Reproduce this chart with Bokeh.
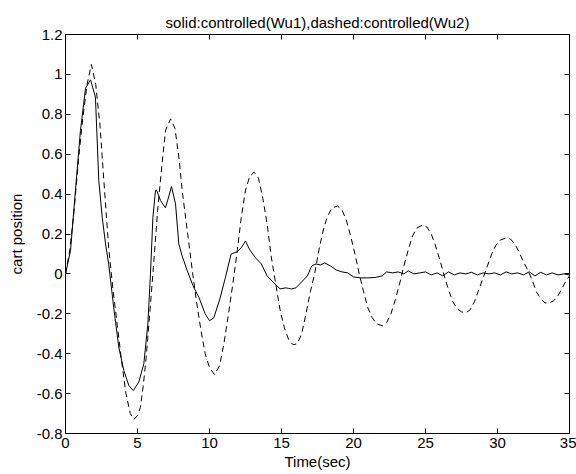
from bokeh.plotting import figure
from bokeh.models import Range1d, LinearAxis, FixedTicker
from bokeh.embed import file_html
from bokeh.resources import INLINE

# ---- data ----
t_wu1 = [0, 0.35, 0.69, 1.04, 1.39, 1.74, 2.08, 2.31, 2.55, 2.78, 3.0, 3.35, 3.7, 4.05,
         4.4, 4.7, 5.09, 5.44, 5.72, 5.9, 6.07, 6.25, 6.32, 6.6, 6.94, 7.1, 7.36, 7.64,
         7.87, 8.1, 8.45, 8.9, 9.26, 9.7, 10.0, 10.3, 10.7, 11.1, 11.5, 11.9, 12.2, 12.5,
         12.8, 13.2, 13.6, 14.0, 14.4, 14.9, 15.3, 15.7, 16.0, 16.4, 16.8, 17.1, 17.4,
         17.7, 18.0, 18.4, 18.8, 19.2, 19.6, 20.0, 20.5, 21.0, 21.5, 22.0, 22.3, 22.7,
         23.1, 23.5, 23.8, 24.2, 24.6, 25.0, 25.4, 25.8, 26.2, 26.6, 27.0, 27.4, 27.8,
         28.2, 28.6, 29.0, 29.4, 29.8, 30.2, 30.6, 31.0, 31.4, 31.8, 32.2, 32.6, 33.0,
         33.4, 33.8, 34.2, 34.6, 35.0]
pos_wu1 = [0, 0.117, 0.418, 0.72, 0.93, 0.973, 0.886, 0.47, 0.284, 0.15, 0.05, -0.17,
           -0.367, -0.484, -0.56, -0.585, -0.543, -0.45, -0.25, 0.0, 0.284, 0.418, 0.42,
           0.368, 0.331, 0.37, 0.438, 0.351, 0.15, 0.09, 0.017, -0.067, -0.117, -0.2,
           -0.235, -0.22, -0.13, -0.02, 0.1, 0.11, 0.13, 0.165, 0.12, 0.08, 0.05, -0.01,
           -0.04, -0.075, -0.07, -0.075, -0.07, -0.04, -0.01, 0.04, 0.05, 0.045, 0.055,
           0.04, 0.02, 0.01, 0.005, -0.015, -0.02, -0.02, -0.018, -0.01, 0.01, 0.005,
           0.01, 0.0, 0.015, 0.0, 0.005, 0.01, -0.005, 0.005, -0.01, 0.01, -0.005, 0.005,
           0.0, 0.008, -0.005, 0.005, 0.0, 0.005, -0.005, 0.01, 0.0, 0.005, -0.005, 0.01,
           -0.01, 0.008, -0.005, 0.005, -0.005, 0.0, -0.005]

t_wu2 = [0, 0.3, 0.6, 0.9, 1.2, 1.5, 1.8, 2.1, 2.4, 2.7, 3.0, 3.3, 3.6, 3.9, 4.2, 4.5,
         4.75, 5.0, 5.2, 5.4, 5.6, 5.85, 6.1, 6.4, 6.7, 6.95, 7.3, 7.6, 7.9, 8.1, 8.45,
         8.8, 9.1, 9.4, 9.7, 10.0, 10.35, 10.7, 11.0, 11.3, 11.6, 11.9, 12.2, 12.5, 12.8,
         13.1, 13.4, 13.7, 14.0, 14.3, 14.6, 14.9, 15.2, 15.5, 15.8, 16.1, 16.4, 16.7,
         17.0, 17.3, 17.6, 17.9, 18.2, 18.5, 18.9, 19.2, 19.5, 19.8, 20.1, 20.4, 20.7,
         21.0, 21.3, 21.6, 22.0, 22.3, 22.6, 22.9, 23.2, 23.5, 23.8, 24.1, 24.4, 24.8,
         25.1, 25.4, 25.7, 26.0, 26.3, 26.6, 26.9, 27.2, 27.5, 27.8, 28.1, 28.4, 28.7,
         29.0, 29.3, 29.6, 29.9, 30.2, 30.6, 30.9, 31.2, 31.5, 31.8, 32.1, 32.4, 32.7,
         33.0, 33.3, 33.6, 33.9, 34.2, 34.5, 34.8, 35.0]
pos_wu2 = [0, 0.12, 0.32, 0.57, 0.78, 0.95, 1.05, 0.95, 0.74, 0.43, 0.13, -0.08, -0.26,
           -0.44, -0.6, -0.7, -0.73, -0.71, -0.67, -0.56, -0.42, -0.2, 0.03, 0.32, 0.55,
           0.72, 0.777, 0.73, 0.57, 0.42, 0.22, 0.02, -0.14, -0.28, -0.4, -0.47, -0.505,
           -0.46, -0.35, -0.21, -0.06, 0.1, 0.28, 0.42, 0.49, 0.51, 0.48, 0.38, 0.25,
           0.08, -0.05, -0.18, -0.27, -0.33, -0.355, -0.35, -0.3, -0.2, -0.09, 0.0, 0.12,
           0.22, 0.29, 0.33, 0.34, 0.32, 0.27, 0.19, 0.1, 0.0, -0.09, -0.17, -0.22, -0.25,
           -0.26, -0.245, -0.2, -0.13, -0.05, 0.04, 0.12, 0.19, 0.23, 0.245, 0.235, 0.2,
           0.14, 0.07, -0.01, -0.08, -0.14, -0.175, -0.19, -0.195, -0.18, -0.14, -0.08,
           -0.02, 0.04, 0.1, 0.145, 0.17, 0.18, 0.175, 0.15, 0.11, 0.06, 0.02, -0.03,
           -0.09, -0.125, -0.145, -0.145, -0.135, -0.11, -0.07, -0.03, -0.01]

x_ticks = [0, 5, 10, 15, 20, 25, 30, 35]
x_tick_labels = ["0", "5", "10", "15", "20", "25", "30", "35"]
y_ticks = [-0.8, -0.6, -0.4, -0.2, 0, 0.2, 0.4, 0.6, 0.8, 1, 1.2]
y_tick_labels = ["-0.8", "-0.6", "-0.4", "-0.2", "0", "0.2", "0.4", "0.6", "0.8", "1", "1.2"]

title_text = "solid:controlled(Wu1),dashed:controlled(Wu2)"
x_label = "Time(sec)"
y_label = "cart position"

FONT = "Liberation Sans"
FS = "15px"

p = figure(width=576, height=474,
           x_range=Range1d(0, 35), y_range=Range1d(-0.8, 1.2),
           output_backend="svg", toolbar_location=None,
           min_border_left=65, min_border_right=7, min_border_top=34, min_border_bottom=41,
           background_fill_color="white", border_fill_color="white",
           outline_line_color="black", outline_line_width=1)

p.xgrid.visible = False
p.ygrid.visible = False

p.line(t_wu1, pos_wu1, line_color="black", line_width=1)
p.line(t_wu2, pos_wu2, line_color="black", line_width=1, line_dash="6 4")

def style_axis(ax, ticks, labels, show_labels):
    ax.ticker = FixedTicker(ticks=ticks)
    ax.minor_tick_line_color = None
    ax.major_tick_in = 5
    ax.major_tick_out = 0
    ax.major_tick_line_color = "black"
    ax.axis_line_color = "black"
    ax.axis_line_width = 1
    ax.major_label_text_font = FONT
    if show_labels:
        ax.major_label_overrides = {float(v): s for v, s in zip(ticks, labels)}
        ax.major_label_text_font_size = FS
        ax.major_label_text_color = "black"
        ax.major_label_standoff = 4
        ax.axis_label_text_font = FONT
        ax.axis_label_text_font_size = FS
        ax.axis_label_text_font_style = "normal"
        ax.axis_label_text_color = "black"
    else:
        ax.major_label_text_font_size = "0px"
        ax.major_label_standoff = 0
        ax.major_label_text_color = None

xa = p.xaxis[0]
ya = p.yaxis[0]
style_axis(xa, x_ticks, x_tick_labels, True)
style_axis(ya, y_ticks, y_tick_labels, True)
xa.axis_label = x_label
xa.axis_label_standoff = 2
ya.axis_label = y_label
ya.axis_label_standoff = 9
ya.major_label_standoff = 3
ya.major_label_orientation = "horizontal"

top_ax = LinearAxis()
style_axis(top_ax, x_ticks, x_tick_labels, False)
p.add_layout(top_ax, "above")
right_ax = LinearAxis()
style_axis(right_ax, y_ticks, y_tick_labels, False)
p.add_layout(right_ax, "right")

p.title.text = title_text
p.title.text_font = FONT
p.title.text_font_size = FS
p.title.text_font_style = "normal"
p.title.text_color = "black"
p.title.align = "center"
p.title.standoff = 8

open("out.html", "w").write(file_html(p, INLINE))
